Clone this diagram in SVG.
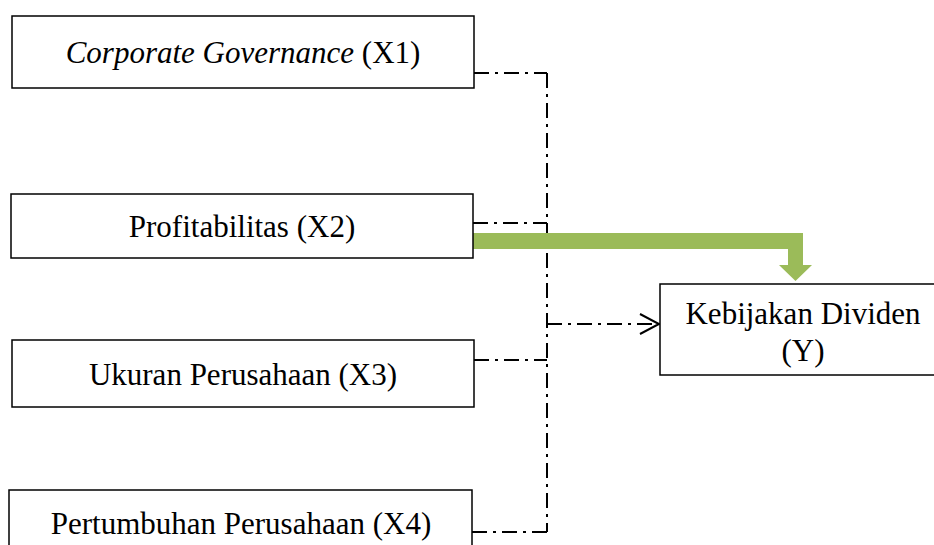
<svg xmlns="http://www.w3.org/2000/svg" width="934" height="545" viewBox="0 0 934 545">
<style>
.box{fill:#fff;stroke:#000;stroke-width:1.5}
.t{font-family:"Liberation Serif","Times New Roman",serif;font-size:31px;fill:#000;text-anchor:middle}
.dd{fill:none;stroke:#000;stroke-width:2;stroke-dasharray:15 6 3 6}
</style>
<rect width="934" height="545" fill="#fff"/>
<g id="connectors">
<path class="dd" d="M474,73 H547"/>
<path class="dd" d="M473,223 H547"/>
<path class="dd" d="M474,360 H547"/>
<path class="dd" d="M472,532 H547"/>
<path class="dd" d="M547,73 V532"/>
<path class="dd" d="M547,324 H657"/>
<path d="M640,314 L659,324 L640,334" fill="none" stroke="#000" stroke-width="2"/>
<polygon points="473,233 803,233 803,265 812,265 795.5,281 779,265 788,265 788,249 473,249" fill="#9BBB59"/>
</g>
<g id="x1">
<rect class="box" x="12" y="16" width="462" height="72"/>
<text class="t" x="243" y="63"><tspan font-style="italic">Corporate Governance</tspan> (X1)</text>
</g>
<g id="x2">
<rect class="box" x="11" y="194" width="462" height="64"/>
<text class="t" x="242" y="237">Profitabilitas (X2)</text>
</g>
<g id="x3">
<rect class="box" x="12" y="340" width="462" height="67"/>
<text class="t" x="243" y="385">Ukuran Perusahaan (X3)</text>
</g>
<g id="x4">
<rect class="box" x="9" y="490" width="463" height="70"/>
<text class="t" x="241" y="534">Pertumbuhan Perusahaan (X4)</text>
</g>
<g id="y">
<rect class="box" x="660" y="284" width="290" height="91"/>
<text class="t" x="803" y="324">Kebijakan Dividen</text>
<text class="t" x="803" y="361">(Y)</text>
</g>
</svg>
